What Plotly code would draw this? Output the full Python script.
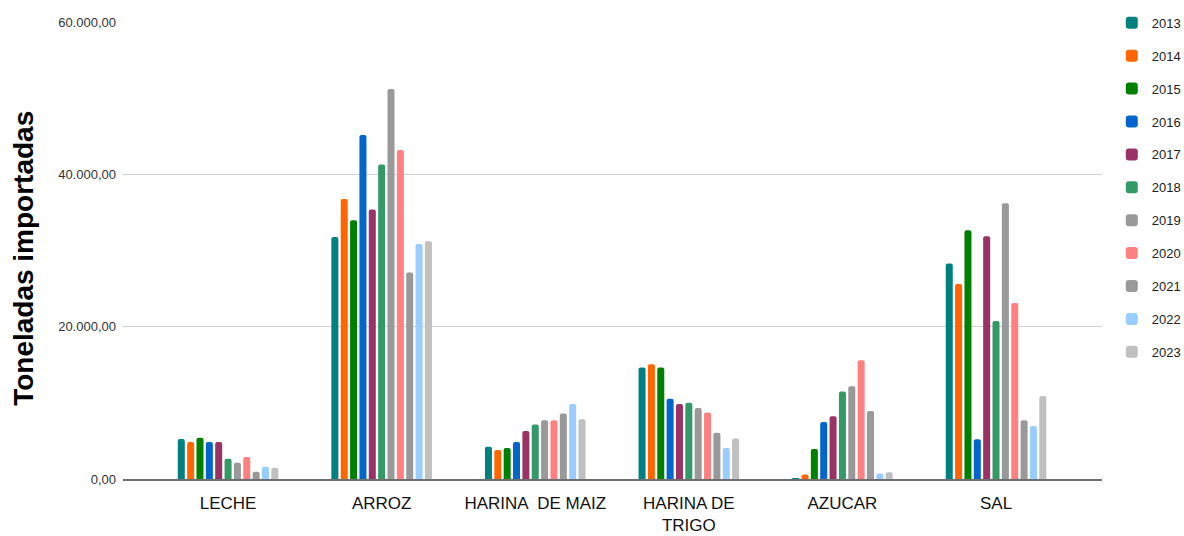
import plotly.graph_objects as go

categories = ["LECHE", "ARROZ", "HARINA  DE MAIZ", "HARINA DE<br>TRIGO", "AZUCAR", "SAL"]
years = ["2013", "2014", "2015", "2016", "2017", "2018", "2019", "2020", "2021", "2022", "2023"]

v2013 = [5240, 31780, 4240, 14650, 100, 28290]
v2014 = [4860, 36770, 3810, 15050, 580, 25610]
v2015 = [5420, 33970, 4070, 14650, 3940, 32660]
v2016 = [4860, 45170, 4860, 10540, 7490, 5210]
v2017 = [4860, 35370, 6300, 9850, 8230, 31870]
v2018 = [2670, 41280, 7170, 10020, 11480, 20750]
v2019 = [2140, 51210, 7700, 9320, 12170, 36200]
v2020 = [2890, 43200, 7700, 8740, 15590, 23110]
v2021 = [960, 27100, 8610, 6080, 8930, 7710]
v2022 = [1620, 30860, 9850, 4070, 710, 6960]
v2023 = [1490, 31210, 7830, 5330, 880, 10900]

series = [v2013, v2014, v2015, v2016, v2017, v2018, v2019, v2020, v2021, v2022, v2023]
colors = ["#00807f", "#ff6600", "#008000", "#0066cc", "#993366", "#339966",
          "#999999", "#ff8080", "#999999", "#99ccff", "#c0c0c0"]

fig = go.Figure()
for yr, vals, col in zip(years, series, colors):
    fig.add_trace(go.Bar(
        name=yr, x=categories, y=vals, marker_color=col,
        legendgroup=yr, marker_line_width=0,
    ))

fig.update_layout(
    width=1184, height=536,
    margin=dict(l=123, r=82, t=22, b=57, autoexpand=False),
    paper_bgcolor="white", plot_bgcolor="white",
    barmode="group", bargap=0.33, bargroupgap=0.25,
    barcornerradius=2,
    separators=",.",
    font=dict(family="Liberation Sans, Arial, sans-serif", color="#222222"),
    legend=dict(
        x=1.010, xanchor="left", y=1.031, yanchor="top",
        font=dict(size=13, color="#222222"),
        tracegroupgap=13, bgcolor="rgba(0,0,0,0)",
        maxheight=520,
    ),
    xaxis=dict(
        range=[-0.684, 5.69],
        showline=True, linecolor="#6e6e6e", linewidth=1.5,
        ticks="", tickfont=dict(size=17, color="#111111"),
        ticklabelstandoff=8,
        showgrid=False,
    ),
    yaxis=dict(
        range=[0, 60000], tickvals=[0, 20000, 40000, 60000],
        tickformat=",.2f", tickfont=dict(size=13, color="#333333"),
        showgrid=True, gridcolor="#d0d0d0", gridwidth=1,
        zeroline=False, ticks="", ticklabelstandoff=6,
    ),
    annotations=[dict(
        text="<b>Toneladas importadas</b>", textangle=-90,
        xref="paper", yref="paper", x=-0.101, y=0.482,
        xanchor="center", yanchor="middle", showarrow=False,
        font=dict(size=28, color="#000000", family="Liberation Sans, Arial, sans-serif"),
    )],
)

fig.write_html(
    "out.html",
    config={"displayModeBar": False},
    post_script="document.body.style.margin='0px';document.body.style.overflow='hidden';",
)
